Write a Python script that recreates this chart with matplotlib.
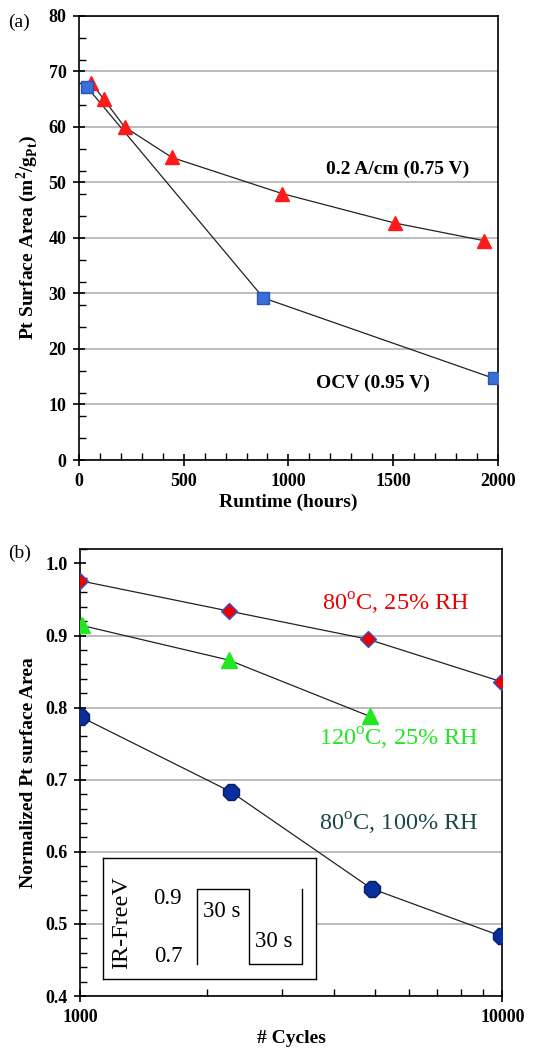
import matplotlib
matplotlib.use('Agg')
import matplotlib.pyplot as plt
from matplotlib.ticker import MultipleLocator, FixedLocator, NullFormatter
import numpy as np

plt.rcParams['font.family'] = ['Liberation Serif', 'DejaVu Serif']
plt.rcParams['mathtext.fontset'] = 'custom'
plt.rcParams['mathtext.rm'] = 'Liberation Serif'
plt.rcParams['mathtext.bf'] = 'Liberation Serif:bold'

# (a) runtime data
hours_02 = [59, 118, 218, 444, 970, 1507, 1936]
area_02 = [68.0, 65.0, 60.0, 54.5, 48.0, 42.7, 39.5]
hours_ocv = [38, 881, 1981]
area_ocv = [67.2, 29.2, 14.7]

# (b) cycling data
cyc_80_25 = [1000, 2250, 4800, 9950]
norm_80_25 = [0.976, 0.934, 0.895, 0.836]
cyc_120_25 = [1010, 2250, 4850]
norm_120_25 = [0.914, 0.866, 0.788]
cyc_80_100 = [1005, 2280, 4900, 9950]
norm_80_100 = [0.787, 0.683, 0.549, 0.483]

# inset waveform
wave_t = [0, 0, 30, 30, 60, 60]
wave_v = [0.7, 0.9, 0.9, 0.7, 0.7, 0.9]

fig = plt.figure(figsize=(5.6, 10.5), dpi=100)

# ---------- panel (a) ----------
ax1 = fig.add_axes([0.141, 0.5619, 0.748, 0.4229])
ax1.plot(hours_ocv, area_ocv, '-', color='#222222', lw=0.9, zorder=2)
ax1.plot(hours_02, area_02, '-', color='#222222', lw=0.9, zorder=2)
ax1.plot(hours_02, area_02, '^', color='#ff1a1a', ms=10.5, mec='#ff1a1a', ls='none', zorder=3)
ax1.plot(hours_ocv, area_ocv, 's', color='#3a6fd8', ms=9, mec='#2a55b0', ls='none', zorder=3)
ax1.set_xlim(0, 2000)
ax1.set_ylim(0, 80)
ax1.xaxis.set_major_locator(MultipleLocator(500))
ax1.xaxis.set_minor_locator(MultipleLocator(100))
ax1.yaxis.set_major_locator(MultipleLocator(10))
ax1.yaxis.set_minor_locator(MultipleLocator(4))
ax1.yaxis.grid(True, color='#b0b0b0', lw=1.2)
ax1.set_axisbelow(True)
ax1.tick_params(which='major', direction='inout', length=8, width=1.2, labelsize=13, pad=5)
ax1.tick_params(which='minor', direction='in', length=5, width=1.0)
ax1.tick_params(top=False, right=False, which='both')
for lab in ax1.get_xticklabels() + ax1.get_yticklabels():
    lab.set_fontweight('bold')
ax1.set_xlabel('Runtime (hours)', fontsize=14, fontweight='bold', labelpad=3)
ax1.set_ylabel(r'Pt Surface Area (m$^{\mathbf{2}}$/g$_{\mathbf{Pt}}$)', fontsize=14,
               fontweight='bold', labelpad=6)
ax1.text(1523, 52.3, '0.2 A/cm (0.75 V)', fontsize=14, fontweight='bold',
         ha='center', va='center')
ax1.text(1403, 13.9, 'OCV (0.95 V)', fontsize=14, fontweight='bold',
         ha='center', va='center')
for s in ax1.spines.values():
    s.set_linewidth(1.2)
fig.text(0.014, 1 - 22 / 1050, '(a)', fontsize=14, va='center')

# ---------- panel (b) ----------
ax2 = fig.add_axes([0.143, 0.0514, 0.754, 0.4257])
ax2.set_xscale('log')
ax2.plot(cyc_80_25, norm_80_25, '-', color='#222222', lw=0.9, zorder=2)
ax2.plot(cyc_120_25, norm_120_25, '-', color='#222222', lw=0.9, zorder=2)
ax2.plot(cyc_80_100, norm_80_100, '-', color='#222222', lw=0.9, zorder=2)
ax2.plot(cyc_80_25, norm_80_25, 'D', color='#ee0000', ms=8.5, mec='#3355cc', mew=1.0,
         ls='none', zorder=3)
ax2.plot(cyc_120_25, norm_120_25, '^', color='#22e622', ms=11, mec='#22e622',
         ls='none', zorder=3)
ax2.plot(cyc_80_100, norm_80_100, '8', color='#0a2f9a', ms=12, mec='#061e66', mew=1.0,
         ls='none', zorder=3)
ax2.set_xlim(1000, 10000)
ax2.set_ylim(0.4, 1.02)
ax2.xaxis.set_major_locator(FixedLocator([1000, 10000]))
ax2.xaxis.set_minor_locator(FixedLocator([2000, 3000, 4000, 5000, 6000, 7000, 8000, 9000]))
ax2.xaxis.set_minor_formatter(NullFormatter())
ax2.set_xticklabels(['1000', '10000'])
ax2.yaxis.set_major_locator(FixedLocator([0.4, 0.5, 0.6, 0.7, 0.8, 0.9, 1.0]))
ax2.yaxis.set_minor_locator(MultipleLocator(0.02))
ax2.set_yticklabels(['0.4', '0.5', '0.6', '0.7', '0.8', '0.9', '1.0'])
ax2.yaxis.grid(True, color='#b0b0b0', lw=1.2)
ax2.get_ygridlines()[-1].set_visible(False)
ax2.set_axisbelow(True)
ax2.tick_params(which='major', direction='inout', length=8, width=1.2, labelsize=13, pad=5)
ax2.tick_params(which='minor', direction='in', length=5, width=1.0)
ax2.tick_params(top=False, right=False, which='both')
for lab in ax2.get_xticklabels() + ax2.get_yticklabels():
    lab.set_fontweight('bold')
ax2.set_xlabel('# Cycles', fontsize=14, fontweight='bold', labelpad=3)
ax2.set_ylabel('Normalized Pt surface Area', fontsize=14, fontweight='bold', labelpad=6)
ax2.text(5600, 0.944, r'80$^\mathregular{o}$C, 25% RH', fontsize=17.5, color='#ee0000',
         ha='center', va='center')
ax2.text(5700, 0.756, r'120$^\mathregular{o}$C, 25% RH', fontsize=17.5, color='#22e622',
         ha='center', va='center')
ax2.text(5700, 0.638, r'80$^\mathregular{o}$C, 100% RH', fontsize=17.5, color='#1a4848',
         ha='center', va='center')
for s in ax2.spines.values():
    s.set_linewidth(1.2)
fig.text(0.014, 1 - 553 / 1050, '(b)', fontsize=14, va='center')

# inset: potential cycle
axi = fig.add_axes([103 / 560, 1 - 979 / 1050, 213 / 560, 121 / 1050])
axi.plot(wave_t, wave_v, '-', color='black', lw=1.0)
axi.set_xlim(-53.7, 68)
axi.set_ylim(0.66, 0.983)
axi.set_xticks([])
axi.set_yticks([])
for s in axi.spines.values():
    s.set_linewidth(1.0)
axi.text(-43, 0.81, 'IR-FreeV', rotation=90, fontsize=17.5, ha='center', va='center')
axi.text(-16.6, 0.875, '0.9', fontsize=16.5, ha='center', va='center')
axi.text(-16.6, 0.72, '0.7', fontsize=16.5, ha='center', va='center')
axi.text(14, 0.84, '30 s', fontsize=16.5, ha='center', va='center')
axi.text(44, 0.76, '30 s', fontsize=16.5, ha='center', va='center')

fig.savefig('out.png', dpi=100)
plt.close(fig)
